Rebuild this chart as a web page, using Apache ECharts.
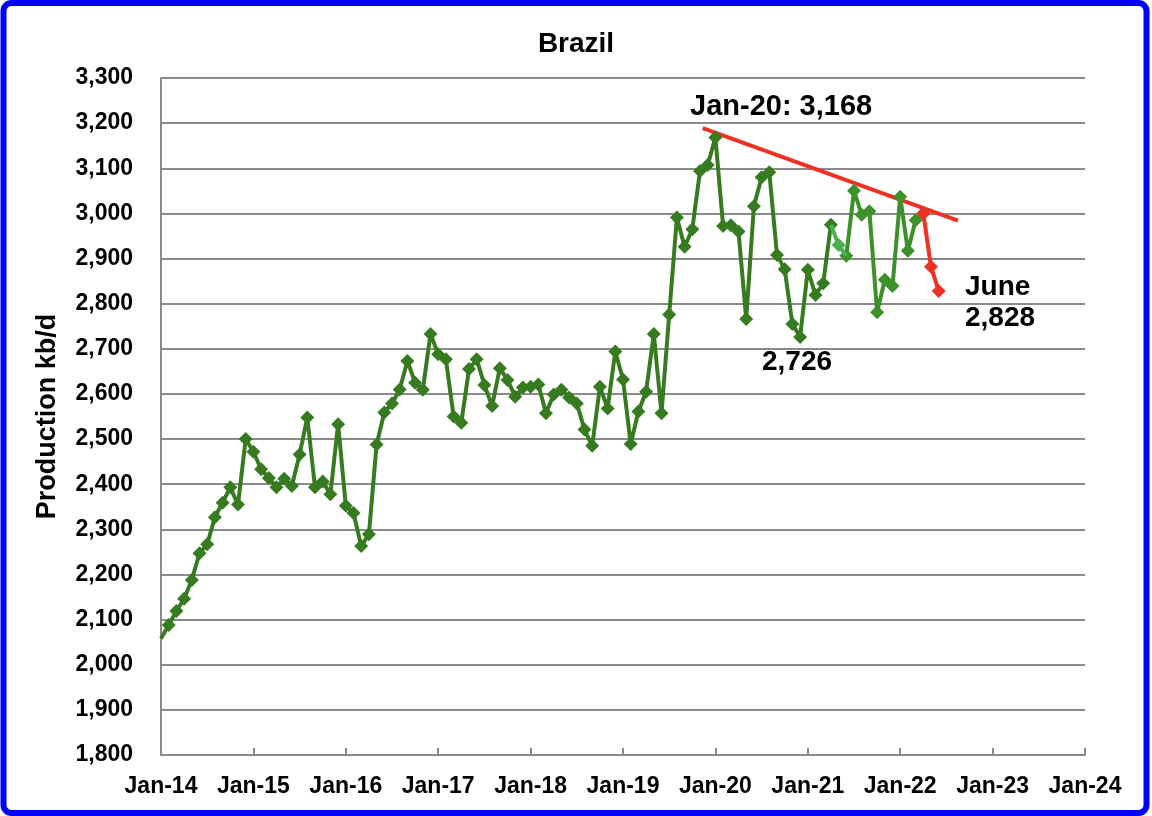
<!DOCTYPE html>
<html><head><meta charset="utf-8">
<script src="https://cdn.jsdelivr.net/npm/echarts@6/dist/echarts.min.js"></script>
<style>html,body{margin:0;padding:0;background:#fff}#c{width:1152px;height:816px}</style>
</head><body><div id="c"></div>
<script>
// Monthly production, kb/d, starting Jan-14 (month index 0)
const firstYear = 14;
const production = [
  2058, 2088, 2119, 2146, 2188, 2247, 2267, 2327, 2359, 2393, 2355, 2500,
  2472, 2433, 2414, 2393, 2412, 2396, 2466, 2548, 2393, 2406, 2378, 2533,
  2352, 2336, 2263, 2289, 2488, 2559, 2579, 2610, 2673, 2625, 2609, 2733,
  2688, 2677, 2550, 2536, 2655, 2677, 2620, 2573, 2657, 2631, 2594, 2614,
  2616, 2621, 2557, 2599, 2609, 2592, 2579, 2521, 2485, 2616, 2568, 2694,
  2632, 2489, 2561, 2605, 2733, 2557, 2776, 2991, 2926, 2965, 3094, 3107,
  3168, 2972, 2974, 2960, 2766, 3016, 3080, 3091, 2908, 2876, 2755, 2726,
  2875, 2819, 2845, 2975, 2930, 2906, 3050, 2997, 3005, 2781, 2853, 2839,
  3037, 2917, 2985, 3000, 2882, 2828
];
const lightFrom = 87, lightTo = 89;   // lighter green piece
const redFrom = 99;                   // Apr-22 onwards drawn in red
const trendMonths = [70.35, 103.5];
const trendValues = [3189, 2984];
const yMin = 1800, yMax = 3300, yStep = 100;
const xMin = 0, xMax = 120, xStep = 12;

const FONT = '"Liberation Sans", Arial, Helvetica, sans-serif';
const pairs = production.map((v, i) => [i, v]);
const darkData = pairs.slice(0, lightFrom + 1).map((p, i) => i === 0 ? {value: p, symbol: 'none'} : p);
const lightData = pairs.slice(lightFrom, lightTo + 1).map((p, i) => (i === 1 ? p : {value: p, symbol: 'none'}));
const midData = pairs.slice(lightTo, redFrom + 1);
const redData = pairs.slice(redFrom);
const trendData = trendMonths.map((m, i) => [m, trendValues[i]]);

const DARK = '#377B20', MID = '#3D9129', LIGHT = '#4CAF50', RED = '#EE3124';
const chart = echarts.init(document.getElementById('c'), null, {renderer: 'canvas'});
chart.setOption({
  animation: false,
  backgroundColor: '#fff',
  title: {
    text: 'Brazil', left: 'center', top: 25,
    textStyle: {fontFamily: FONT, fontWeight: 'bold', fontSize: 28, color: '#000'}
  },
  grid: {left: 161, top: 78, right: 67, bottom: 61, containLabel: false},
  xAxis: {
    type: 'value', min: xMin, max: xMax, interval: xStep,
    axisLine: {show: true, lineStyle: {color: '#8a8a8a', width: 2}},
    axisTick: {show: true, inside: true, length: 7, lineStyle: {color: '#8a8a8a', width: 2}},
    splitLine: {show: false},
    axisLabel: {
      margin: 20, color: '#000', fontFamily: FONT, fontWeight: 'bold', fontSize: 23,
      formatter: v => 'Jan-' + (firstYear + Math.round(v / 12))
    }
  },
  yAxis: {
    type: 'value', min: yMin, max: yMax, interval: yStep,
    name: 'Production kb/d', nameLocation: 'middle', nameRotate: 90, nameGap: 100,
    nameTextStyle: {fontFamily: FONT, fontWeight: 'bold', fontSize: 27, color: '#000'},
    axisLine: {show: true, lineStyle: {color: '#8a8a8a', width: 2}},
    axisTick: {show: false},
    splitLine: {show: true, lineStyle: {color: '#8a8a8a', width: 2}},
    axisLabel: {
      margin: 28, color: '#000', fontFamily: FONT, fontWeight: 'bold', fontSize: 23,
      formatter: v => v.toLocaleString('en-US')
    }
  },
  series: [
    {type: 'line', data: trendData, symbol: 'none', z: 2, lineStyle: {color: RED, width: 4}},
    {type: 'line', data: darkData, symbol: 'diamond', symbolSize: 14, z: 3,
     lineStyle: {color: DARK, width: 4}, itemStyle: {color: DARK}},
    {type: 'line', data: midData, symbol: 'diamond', symbolSize: 14, z: 3,
     lineStyle: {color: MID, width: 4}, itemStyle: {color: MID}},
    {type: 'line', data: lightData, symbol: 'diamond', symbolSize: 14, z: 4,
     lineStyle: {color: LIGHT, width: 4}, itemStyle: {color: LIGHT}},
    {type: 'line', data: redData, symbol: 'diamond', symbolSize: 14, z: 5,
     lineStyle: {color: RED, width: 4}, itemStyle: {color: RED}}
  ],
  graphic: [
    {type: 'rect', shape: {x: 3.5, y: 3, width: 1143, height: 810, r: 8}, silent: true, z: 100,
     style: {fill: null, stroke: '#0000FF', lineWidth: 6}},
    {type: 'text', left: 690, top: 92, z: 50,
     style: {text: 'Jan-20: 3,168', font: 'bold 29px ' + FONT, fill: '#000'}},
    {type: 'text', left: 762, top: 348, z: 50,
     style: {text: '2,726', font: 'bold 28px ' + FONT, fill: '#000'}},
    {type: 'text', left: 965, top: 272, z: 50,
     style: {text: 'June\n2,828', font: 'bold 28px ' + FONT, fill: '#000', lineHeight: 31}}
  ]
});
</script></body></html>
